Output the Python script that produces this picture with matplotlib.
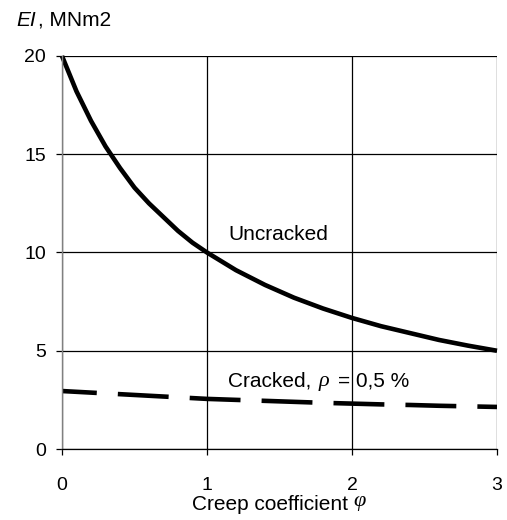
import matplotlib
matplotlib.use('Agg')
import matplotlib.pyplot as plt

# values
phi = [0, 0.1, 0.2, 0.3, 0.4, 0.5, 0.6, 0.7, 0.8, 0.9, 1.0,
       1.2, 1.4, 1.6, 1.8, 2.0, 2.2, 2.4, 2.6, 2.8, 3.0]
ei_uncracked = [20.0, 18.2, 16.7, 15.4, 14.3, 13.3, 12.5, 11.8, 11.1, 10.5, 10.0,
                9.1, 8.35, 7.7, 7.15, 6.67, 6.25, 5.9, 5.55, 5.26, 5.0]
ei_cracked = [2.95, 2.91, 2.87, 2.83, 2.79, 2.75, 2.71, 2.67, 2.63, 2.59, 2.55,
              2.5, 2.45, 2.4, 2.35, 2.31, 2.27, 2.24, 2.2, 2.17, 2.14]

x_ticks = [0, 1, 2, 3]
y_ticks = [0, 5, 10, 15, 20]

plt.rcParams['font.family'] = ['Liberation Sans', 'DejaVu Sans']

fig = plt.figure(figsize=(5.07, 5.2), dpi=100)
ax = fig.add_axes([62 / 507, 1 - 449 / 520, 435 / 507, 393 / 520])

lw = 3.3
ax.plot(phi, ei_uncracked, color='black', linewidth=lw, solid_capstyle='butt', clip_on=False)
ax.plot(phi, ei_cracked, color='black', linewidth=lw,
        linestyle=(3.5, (11.1, 4.6)), dash_capstyle='butt')

ax.set_xlim(0, 3)
ax.set_ylim(0, 20)
ax.set_xticks(x_ticks)
ax.set_yticks(y_ticks)
ax.grid(True, color='black', linewidth=0.9)
ax.set_axisbelow(True)
for s in ['top', 'right']:
    ax.spines[s].set_visible(False)
ax.spines['left'].set_color('#808080')
ax.spines['left'].set_linewidth(1.0)
ax.spines['bottom'].set_color('black')
ax.spines['bottom'].set_linewidth(0.9)
ax.tick_params(axis='both', labelsize=14, length=4.5, width=0.9, direction='out', colors='black')
ax.tick_params(axis='x', pad=16)
ax.tick_params(axis='y', pad=7)

ax.text(1.145, 10.9, 'Uncracked', fontsize=15, va='center')
ax.text(1.145, 3.46, 'Cracked,', fontsize=15, va='center')
ax.text(1.766, 3.46, 'ρ', fontsize=16, va='center', style='italic', family='Liberation Serif')
ax.text(1.9, 3.46, '= 0,5 %', fontsize=15, va='center')

fig.text(16 / 507, 1 - 20 / 520, 'EI', fontsize=15, style='italic', va='center')
fig.text(38 / 507, 1 - 20 / 520, ', MNm2', fontsize=15, va='center')

fig.text(192 / 507, 1 - 510 / 520, 'Creep coefficient', fontsize=15, ha='left', va='baseline')
fig.text(353 / 507, 1 - 506 / 520, 'φ', fontsize=16, style='italic', family='Liberation Serif',
         ha='left', va='baseline')

fig.savefig('out.png', dpi=100)
